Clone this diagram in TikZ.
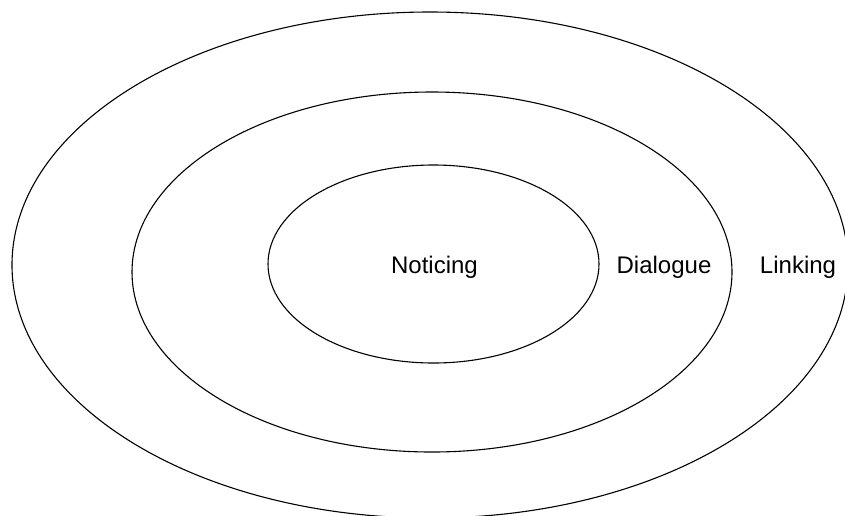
\documentclass[tikz,border=0pt]{standalone}
\usepackage{fontspec}
\setmainfont{Liberation Sans}
\begin{document}
\begin{tikzpicture}[x=1pt,y=-1pt,
  ring/.style={draw=black,line width=1.1pt},
  lbl/.style={anchor=base,inner sep=0pt,font=\fontsize{24}{28}\selectfont}]
\useasboundingbox (0,0) rectangle (845,515);
\clip (0,0) rectangle (845,515);
\fill[white] (0,0) rectangle (845,515);
\draw[ring] (430,265) ellipse [x radius=418, y radius=253];
\draw[ring] (432,272) ellipse [x radius=300, y radius=180];
\draw[ring] (433.5,264) ellipse [x radius=165.5, y radius=99];
\node[lbl] (noticing) at (434.5,273) {Noticing};
\node[lbl] (dialogue) at (664,273) {Dialogue};
\node[lbl] (linking) at (798,273) {Linking};
\end{tikzpicture}
\end{document}
